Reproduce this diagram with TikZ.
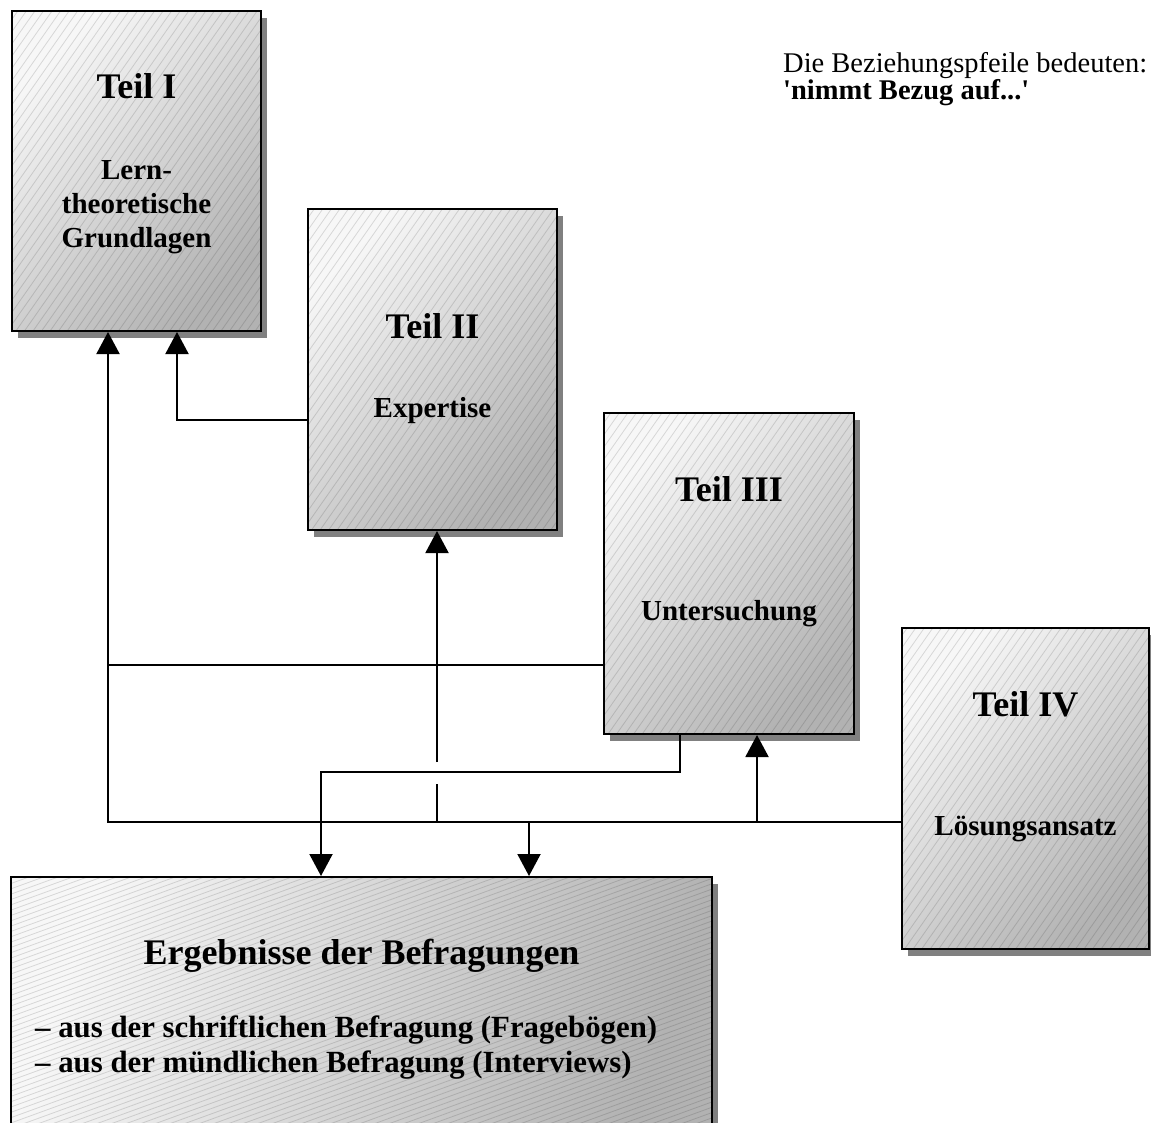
\documentclass[tikz,border=0pt]{standalone}
\usepackage{fontspec}
\setmainfont{Liberation Serif}
\usetikzlibrary{arrows.meta,shadows}
\begin{document}
\begin{tikzpicture}[x=1pt,y=-1pt,
  hatchline/.style={draw=black, draw opacity=0.13, line width=0.8pt},
  box/.style n args={3}{draw=black, line width=2pt, inner sep=0pt,
    top color=black!3, bottom color=black!30, shading angle=45,
    drop shadow={shadow xshift=6pt, shadow yshift=-7pt, fill=black!50, opacity=1},
    path picture={\foreach \k in {-#3,...,#3}
      \draw[hatchline] ([shift={(#1+90:\k*#2 pt)}]path picture bounding box.center)
        ++(#1:-900pt) -- ++(#1:1800pt);}},
  conn/.style={line width=2pt},
  arr/.style={line width=2pt, -{Triangle[width=23pt,length=22pt]}},
  head/.style={font=\bfseries\fontsize{36}{40}\selectfont, anchor=base, inner sep=0pt},
  sub/.style={font=\bfseries\fontsize{29}{34}\selectfont, anchor=base, inner sep=0pt, align=center}]
\clip (0,0) rectangle (1151,1122);
\useasboundingbox (0,0) rectangle (1151,1122);

% boxes
\node[box={55}{7}{40}, minimum width=249pt, minimum height=320pt] (t1) at (136.5,171) {};
\node[box={55}{7}{40}, minimum width=249pt, minimum height=321pt] (t2) at (432.5,369.5) {};
\node[box={55}{7}{40}, minimum width=250pt, minimum height=321pt] (t3) at (729,573.5) {};
\node[box={55}{7}{40}, minimum width=247pt, minimum height=321pt] (t4) at (1025.5,788.5) {};
\node[box={20}{5}{80}, shading angle=70, minimum width=701pt, minimum height=258pt] (te) at (361.5,1006) {};

% texts
\node[head] (t1h) at (136.5,98) {Teil I};
\node[sub] (t1s) at (136.5,247) {Lern-\\theoretische\\Grundlagen};
\node[head] (t2h) at (432.5,338) {Teil II};
\node[sub] (t2s) at (432.5,417) {Expertise};
\node[head] (t3h) at (729,501) {Teil III};
\node[sub] (t3s) at (729,620) {Untersuchung};
\node[head] (t4h) at (1025.5,716) {Teil IV};
\node[sub] (t4s) at (1025.5,835) {Lösungsansatz};
\node[head] (teh) at (361.5,964) {Ergebnisse der Befragungen};
\node[font=\bfseries\fontsize{30.8}{35}\selectfont, anchor=base west, inner sep=0pt, align=left] (tes) at (35,1072)
  {– aus der schriftlichen Befragung (Fragebögen)\\– aus der mündlichen Befragung (Interviews)};
\node[font=\fontsize{28.5}{27}\selectfont, anchor=base west, inner sep=0pt, align=left] (legend) at (783,99)
  {Die Beziehungspfeile bedeuten:\\\textbf{\textquotesingle nimmt Bezug auf...\textquotesingle}};

% junction coordinates
\coordinate (a1) at (108,822);
\coordinate (a2) at (108,665);
\coordinate (a3) at (177,420);
\coordinate (a4) at (437,822);
\coordinate (g1) at (437,784);
\coordinate (g2) at (437,762);
\coordinate (a5) at (680,772);
\coordinate (a6) at (321,772);
\coordinate (a7) at (529,822);
\coordinate (a8) at (757,822);

% connectors
\draw[arr] (t4.west |- a1) -- (a1) -- (a1 |- t1.south);
\draw[conn] (a2) -- (a2 -| t3.west);
\draw[arr] (a3 -| t2.west) -- (a3) -- (a3 |- t1.south);
\draw[conn] (a4) -- (g1);
\draw[arr] (g2) -- (g2 |- t2.south);
\draw[arr] (a5 |- t3.south) -- (a5) -- (a6) -- (a6 |- te.north);
\draw[arr] (a7) -- (a7 |- te.north);
\draw[arr] (a8) -- (a8 |- t3.south);
\end{tikzpicture}
\end{document}
